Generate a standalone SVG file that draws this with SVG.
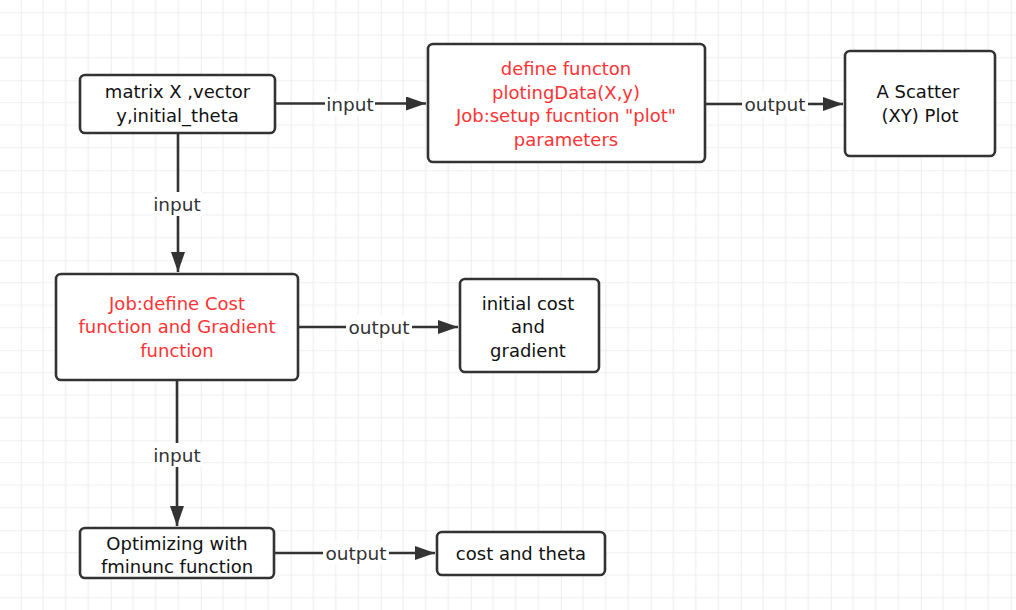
<svg xmlns="http://www.w3.org/2000/svg" width="1016" height="610" viewBox="0 0 1016 610">
<style>
.box{fill:#fff;stroke:#333;stroke-width:2.6}
.t{font-family:"DejaVu Sans","Noto Sans",sans-serif;font-size:18px;text-anchor:middle;fill:#111}
.r{fill:#ff3333}
.lbl{font-family:"DejaVu Sans","Noto Sans",sans-serif;font-size:18.5px;text-anchor:middle;fill:#333}
.ln{stroke:#333;stroke-width:2.6;fill:none}
.bg{fill:#fff}
</style>
<defs>
<pattern id="grid" patternUnits="userSpaceOnUse" x="20.7" y="80.2" width="90" height="90">
<rect width="90" height="90" fill="#fff"/>
<path d="M22.5,0V90M45,0V90M67.5,0V90M0,22.5H90M0,45H90M0,67.5H90" stroke="#f0f0f0" stroke-width="1.2"/>
<path d="M0,0V90M0,0H90" stroke="#e3e3e3" stroke-width="1.2"/>
</pattern>
<marker id="ah" viewBox="0 0 20 14" refX="20" refY="7" markerWidth="20" markerHeight="14" markerUnits="userSpaceOnUse" orient="auto">
<path d="M0,0L20,7L0,14z" fill="#333"/>
</marker>
</defs>
<rect width="1016" height="610" fill="url(#grid)"/>
<g id="connectors">
<path class="ln" d="M275,103.5H426" marker-end="url(#ah)"/>
<rect class="bg" x="325" y="92" width="50" height="24"/>
<text class="lbl" x="350" y="110.5">input</text>
<path class="ln" d="M705,104H843" marker-end="url(#ah)"/>
<rect class="bg" x="742" y="92" width="66" height="24"/>
<text class="lbl" x="775" y="110.5">output</text>
<path class="ln" d="M178,133V272" marker-end="url(#ah)"/>
<rect class="bg" x="152" y="192" width="50" height="24"/>
<text class="lbl" x="177" y="210.5">input</text>
<path class="ln" d="M298,327H458" marker-end="url(#ah)"/>
<rect class="bg" x="346" y="315" width="66" height="24"/>
<text class="lbl" x="379" y="333.5">output</text>
<path class="ln" d="M177,380V526" marker-end="url(#ah)"/>
<rect class="bg" x="152" y="443" width="50" height="24"/>
<text class="lbl" x="177" y="461.5">input</text>
<path class="ln" d="M274,553H435" marker-end="url(#ah)"/>
<rect class="bg" x="323" y="541" width="66" height="24"/>
<text class="lbl" x="356" y="559.5">output</text>
</g>
<g id="n1">
<rect class="box" x="80" y="75" width="195" height="58" rx="5"/>
<text class="t" x="177.5" y="98">matrix X ,vector</text>
<text class="t" x="177.5" y="122">y,initial_theta</text>
</g>
<g id="n2">
<rect class="box" x="428" y="44" width="277" height="118" rx="5"/>
<text class="t r" x="566" y="75">define functon</text>
<text class="t r" x="566" y="98.5">plotingData(X,y)</text>
<text class="t r" x="566" y="122">Job:setup fucntion "plot"</text>
<text class="t r" x="566" y="145.5">parameters</text>
</g>
<g id="n3">
<rect class="box" x="845" y="51" width="150" height="105" rx="5"/>
<text class="t" x="918" y="98">A Scatter</text>
<text class="t" x="920" y="122">(XY) Plot</text>
</g>
<g id="n4">
<rect class="box" x="56" y="274" width="242" height="106" rx="5"/>
<text class="t r" x="177" y="309.5">Job:define Cost</text>
<text class="t r" x="177" y="333">function and Gradient</text>
<text class="t r" x="177" y="357">function</text>
</g>
<g id="n5">
<rect class="box" x="460" y="279" width="139" height="93" rx="5"/>
<text class="t" x="528" y="309.5">initial cost</text>
<text class="t" x="528" y="333">and</text>
<text class="t" x="528" y="357">gradient</text>
</g>
<g id="n6">
<rect class="box" x="80" y="528" width="194" height="50" rx="5"/>
<text class="t" x="177" y="549.5">Optimizing with</text>
<text class="t" x="177" y="573">fminunc function</text>
</g>
<g id="n7">
<rect class="box" x="437" y="532" width="168" height="43" rx="5"/>
<text class="t" x="521" y="560">cost and theta</text>
</g>
</svg>
